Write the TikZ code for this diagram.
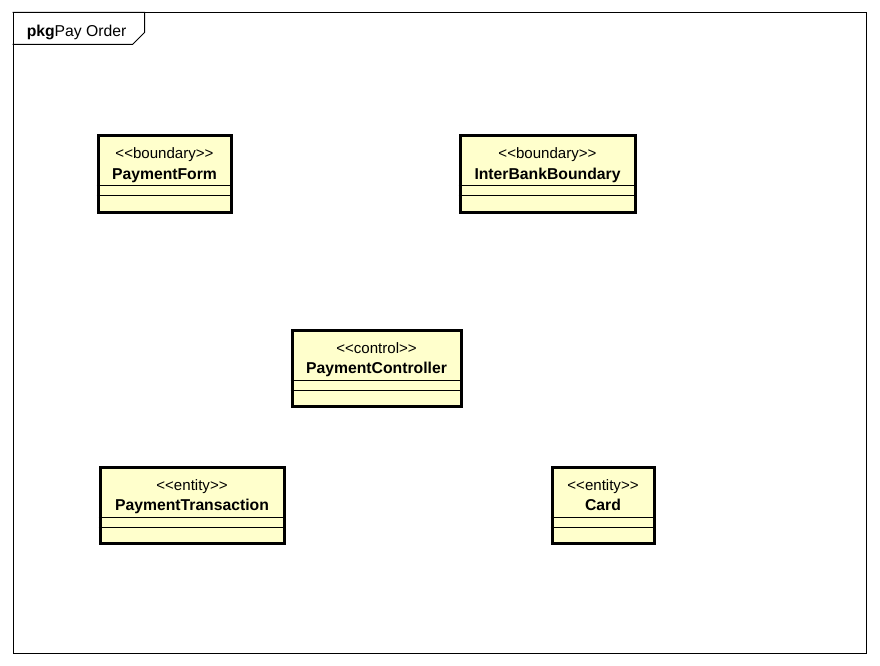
\documentclass[tikz,border=0pt]{standalone}
\usepackage{fontspec}
\setmainfont{Liberation Sans}[Ligatures=TeXOff]
\usetikzlibrary{calc, positioning, fit}
\definecolor{classfill}{RGB}{255,255,204}

\begin{document}
\begin{tikzpicture}[
    x=0.75pt, y=-0.75pt,
    frame/.style={draw=black, line width=0.75pt, inner sep=0pt},
    classbox/.style={draw=black, line width=2.25pt, fill=classfill, rectangle, inner sep=0pt},
    sep/.style={draw=black, line width=0.75pt},
    stereo/.style={anchor=base, inner sep=0pt, font=\fontsize{11.3}{13}\selectfont},
    cname/.style={anchor=base, inner sep=0pt, font=\fontsize{11.8}{13}\selectfont\bfseries},
    tablabel/.style={anchor=base west, inner sep=0pt, font=\fontsize{11.8}{13}\selectfont}
]
\useasboundingbox (0,0) rectangle (880,666);

% package frame
\node[frame, fit={(13,13) (866,653)}] (pkg) {};
\draw[frame] (pkg.north west) -- ++(132,0) -- ++(0,20) -- ++(-12,12) -- ++(-120,0);
\node[tablabel] (pkgname) at ($(pkg.north west)+(14,24.5)$) {\textbf{pkg}Pay Order};

% classes
\node[classbox, fit={(98,136) (231,213)}] (form) {};
\node[classbox, fit={(460,136) (635,213)}] (inter) {};
\node[classbox, fit={(292,330) (461,406)}] (ctrl) {};
\node[classbox, fit={(100,467) (284,543)}] (trans) {};
\node[classbox, fit={(552,467) (654,543)}] (card) {};

\node[stereo] (formst) at ($(form.north)+(0,24.5)$) {<<boundary>>};
\node[cname] (formnm) at ($(form.north)+(0,45)$) {PaymentForm};
\node[stereo] (interst) at ($(inter.north)+(0,24.5)$) {<<boundary>>};
\node[cname] (internm) at ($(inter.north)+(0,45)$) {InterBankBoundary};
\node[stereo] (ctrlst) at ($(ctrl.north)+(0,24.5)$) {<<control>>};
\node[cname] (ctrlnm) at ($(ctrl.north)+(0,45)$) {PaymentController};
\node[stereo] (transst) at ($(trans.north)+(0,24.5)$) {<<entity>>};
\node[cname] (transnm) at ($(trans.north)+(0,45)$) {PaymentTransaction};
\node[stereo] (cardst) at ($(card.north)+(0,24.5)$) {<<entity>>};
\node[cname] (cardnm) at ($(card.north)+(0,45)$) {Card};

% compartments
\foreach \c in {form, inter, ctrl, trans, card} {
    \draw[sep] ($(\c.north west)+(0,51.5)$) -- ($(\c.north east)+(0,51.5)$);
    \draw[sep] ($(\c.north west)+(0,61.5)$) -- ($(\c.north east)+(0,61.5)$);
}
\end{tikzpicture}
\end{document}
